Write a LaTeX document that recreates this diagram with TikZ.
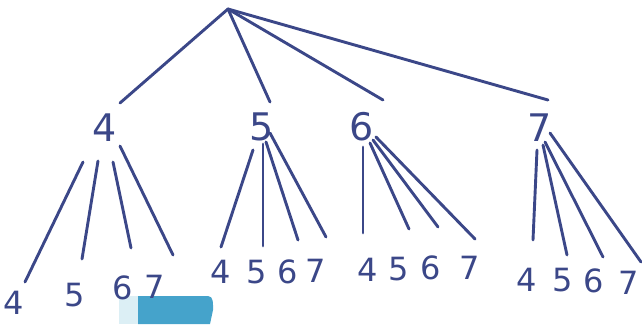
\documentclass[tikz,border=0pt]{standalone}
\usepackage{fontspec}
\setmainfont{DejaVu Sans}
\setsansfont{DejaVu Sans}
\begin{document}
\begin{tikzpicture}[x=1pt,y=-1pt,
  edge/.style={draw=ink,line width=2.9pt,line cap=round},
  lvl/.style={text=ink,inner sep=0pt,font=\fontsize{38}{38}\selectfont\sffamily},
  leaf/.style={text=ink,inner sep=0pt,font=\fontsize{32}{32}\selectfont\sffamily}]
\definecolor{ink}{HTML}{3B4788}
\definecolor{tab}{HTML}{45A3CB}
\definecolor{tabpale}{HTML}{DCEFF5}
\useasboundingbox (0,0) rectangle (642,324);
% blue tab at bottom
\fill[tabpale] (119,296) rectangle (138,324);
\fill[tab] (138,296) -- (208,296) to[out=0,in=90] (213,310) -- (210,324) -- (138,324) -- cycle;
% root
\coordinate (r) at (228,9);
% level 1
\node[lvl] (a) at (105,128) {4};
\node[lvl] (b) at (262,127) {5};
\node[lvl] (c) at (362,127) {6};
\node[lvl] (d) at (540,128) {7};
\coordinate (ae) at (120,103);
\coordinate (be) at (270,102);
\coordinate (ce) at (383,100);
\coordinate (de) at (548,100);
\draw[edge] (r) -- (ae);
\draw[edge] (r) -- (be);
\draw[edge] (r) -- (ce);
\draw[edge] (r) -- (de);
% leaves under 4
\node[leaf] (a4) at (14,303) {4};
\node[leaf] (a5) at (75,295) {5};
\node[leaf] (a6) at (123,288) {6};
\node[leaf] (a7) at (155,287) {7};
\coordinate (as4) at (83,162); \coordinate (ae4) at (25,282);
\coordinate (as5) at (98,161); \coordinate (ae5) at (82,259);
\coordinate (as6) at (113,162); \coordinate (ae6) at (131,248);
\coordinate (as7) at (120,146); \coordinate (ae7) at (173,255);
\foreach \k in {4,5,6,7} \draw[edge] (as\k) -- (ae\k);
% leaves under 5
\node[leaf] (b4) at (221,272) {4};
\node[leaf] (b5) at (257,272) {5};
\node[leaf] (b6) at (288,272) {6};
\node[leaf] (b7) at (316,271) {7};
\coordinate (bs4) at (253,150); \coordinate (be4) at (221,247);
\coordinate (bs5) at (263,144); \coordinate (be5) at (263,246);
\coordinate (bs6) at (266,142); \coordinate (be6) at (298,240);
\coordinate (bs7) at (270,133); \coordinate (be7) at (326,237);
\foreach \k in {4,5,6,7} \draw[edge] (bs\k) -- (be\k);
% leaves under 6
\node[leaf] (c4) at (368,270) {4};
\node[leaf] (c5) at (399,269) {5};
\node[leaf] (c6) at (431,268) {6};
\node[leaf] (c7) at (470,268) {7};
\coordinate (cs4) at (363,147); \coordinate (ce4) at (363,233);
\coordinate (cs5) at (370,143); \coordinate (ce5) at (409,229);
\coordinate (cs6) at (373,140); \coordinate (ce6) at (438,227);
\coordinate (cs7) at (376,137); \coordinate (ce7) at (475,239);
\foreach \k in {4,5,6,7} \draw[edge] (cs\k) -- (ce\k);
% leaves under 7
\node[leaf] (d4) at (527,280) {4};
\node[leaf] (d5) at (563,280) {5};
\node[leaf] (d6) at (594,281) {6};
\node[leaf] (d7) at (629,283) {7};
\coordinate (ds4) at (537,150); \coordinate (de4) at (533,240);
\coordinate (ds5) at (543,145); \coordinate (de5) at (567,255);
\coordinate (ds6) at (545,142); \coordinate (de6) at (603,257);
\coordinate (ds7) at (550,133); \coordinate (de7) at (641,262);
\foreach \k in {4,5,6,7} \draw[edge] (ds\k) -- (de\k);
\end{tikzpicture}
\end{document}
